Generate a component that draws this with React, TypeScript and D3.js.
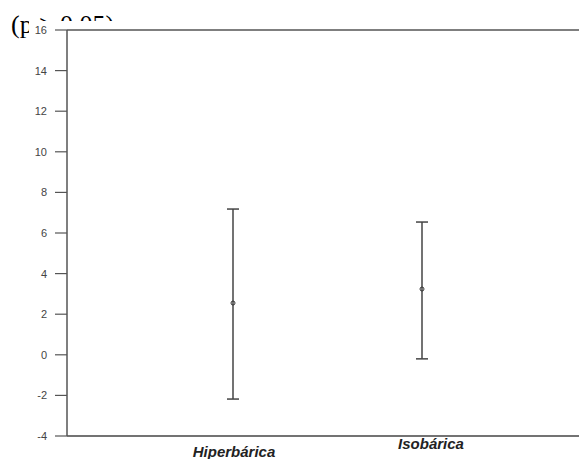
import React from "react";
import * as d3 from "d3";

const categories = ["Hiperbárica", "Isobárica"];
const means = [2.55, 3.24];
const upper = [7.18, 6.54];
const lower = [-2.18, -0.2];
const yTicks = [16, 14, 12, 10, 8, 6, 4, 2, 0, -2, -4];
const caption = "(p ≥ 0.05)";

export default function App() {
  const W = 579, H = 459;
  const y = d3.scaleLinear().domain([-4, 16]).range([436, 30]);
  const x = d3.scalePoint<string>().domain(categories).range([233, 422]);
  const axisX = 67;
  const labelDy = [21, 13];
  const labelDx = [1, 9];
  return (
    <svg width={W} height={H} style={{ position: "absolute", left: 0, top: 0, background: "#fff" }}>
      <text x={11} y={33} fontFamily="Liberation Serif, serif" fontSize={26} fill="#000">{caption}</text>
      <rect x={29} y={21} width={W - 29} height={H - 21} fill="#fff" />
      {/* axes */}
      <line x1={axisX} x2={W} y1={y(16)} y2={y(16)} stroke="#555" strokeWidth={1.5} />
      <line x1={axisX} x2={W} y1={y(-4)} y2={y(-4)} stroke="#444" strokeWidth={1.5} />
      <line x1={axisX} x2={axisX} y1={y(16)} y2={y(-4)} stroke="#555" strokeWidth={1.5} />
      {yTicks.map((t) => (
        <g key={t}>
          <line x1={axisX - 12} x2={axisX} y1={y(t)} y2={y(t)} stroke="#555" strokeWidth={1.2} />
          <text x={47} y={y(t) + 4} textAnchor="end" fontFamily="Liberation Sans, Arial, sans-serif" fontSize={11} fill="#444">{t}</text>
        </g>
      ))}
      {categories.map((c, i) => {
        const cx = x(c) as number;
        return (
          <g key={c}>
            <line x1={cx} x2={cx} y1={y(upper[i])} y2={y(lower[i])} stroke="#444" strokeWidth={1.5} />
            <line x1={cx - 6} x2={cx + 6} y1={y(upper[i])} y2={y(upper[i])} stroke="#444" strokeWidth={1.5} />
            <line x1={cx - 6} x2={cx + 6} y1={y(lower[i])} y2={y(lower[i])} stroke="#444" strokeWidth={1.5} />
            <circle cx={cx} cy={y(means[i])} r={2} fill="none" stroke="#333" strokeWidth={1} />
            <text x={cx + labelDx[i]} y={y(-4) + labelDy[i]} textAnchor="middle" fontFamily="Liberation Sans, Arial, sans-serif" fontStyle="italic" fontWeight="bold" fontSize={15} fill="#222">{c}</text>
          </g>
        );
      })}
    </svg>
  );
}
